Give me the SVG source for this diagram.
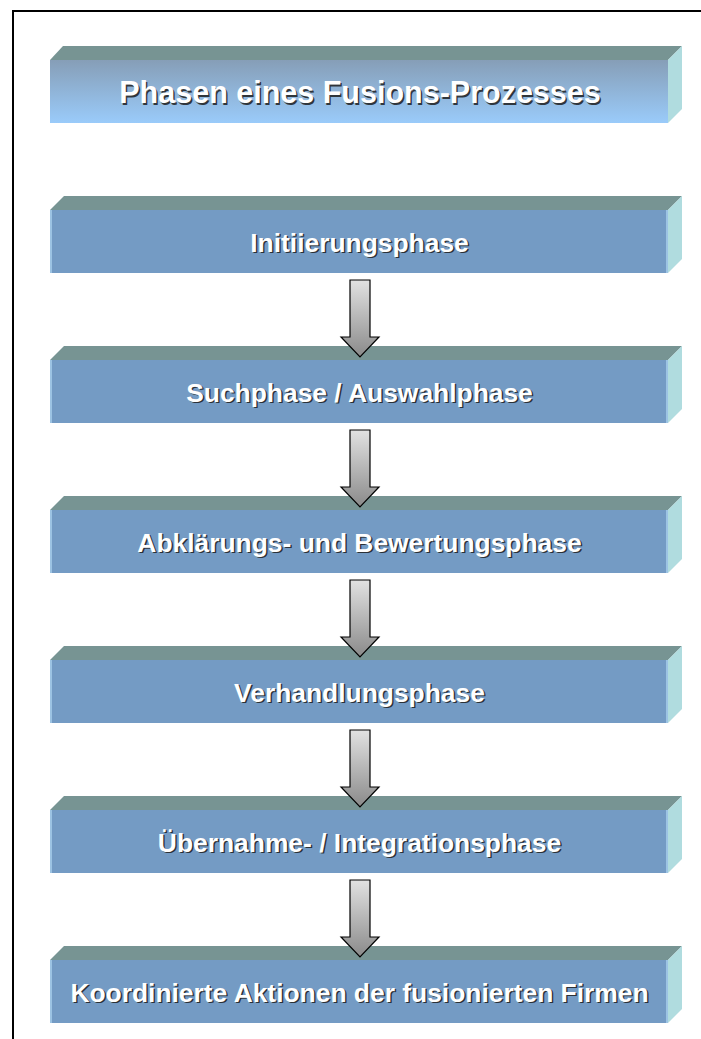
<svg xmlns="http://www.w3.org/2000/svg" width="701" height="1039" viewBox="0 0 701 1039">
  <defs>
    <linearGradient id="titleGrad" x1="0" y1="0" x2="0" y2="1">
      <stop offset="0" stop-color="#869eb7"/>
      <stop offset="1" stop-color="#9acbfa"/>
    </linearGradient>
    <linearGradient id="arrowGrad" x1="0" y1="0" x2="0" y2="1">
      <stop offset="0" stop-color="#e2e2e2"/>
      <stop offset="1" stop-color="#8a8a8a"/>
    </linearGradient>
    <g id="box">
      <polygon class="top" points="50,0 64,-14 682,-14 668,0"/>
      <polygon class="side" points="668,0 682,-14 682,49 668,63"/>
      <rect class="front" x="50" y="0" width="618" height="63"/>
      <rect class="edge" x="50" y="0" width="2" height="63"/>
      <rect class="edge" x="666" y="0" width="2" height="63"/>
    </g>
    <path id="arrow" d="M350,0 H370 V57 H379 L360,77 L341,57 H350 Z"/>
  </defs>
  <style>
    .top { fill: #779493; }
    .side { fill: #b0dcdf; }
    .front { fill: #749bc4; }
    .edge { fill: #9cc3e3; }
    .lbl { font-family: "Liberation Sans", Arial, sans-serif; font-weight: bold; font-size: 26.4px; text-anchor: middle; fill: #ffffff; }
    .shadow { fill: #1e1e1e; fill-opacity: 0.85; }
    .title { font-size: 30.5px; }
    .arr { fill: url(#arrowGrad); stroke: #000000; stroke-width: 1.2; stroke-linejoin: miter; }
  </style>
  <rect x="0" y="0" width="701" height="1039" fill="#ffffff"/>
  <path d="M13,1039 V11 H701" fill="none" stroke="#000000" stroke-width="2"/>

  <g id="title">
    <polygon class="top" points="50,60 63,46 682,46 668,60"/>
    <polygon class="side" points="668,60 682,46 682,109 668,123"/>
    <rect x="50" y="60" width="618" height="63" fill="url(#titleGrad)"/>
    <text class="lbl title shadow" x="361.5" y="104.5">Phasen eines Fusions-Prozesses</text>
    <text class="lbl title" x="360" y="103">Phasen eines Fusions-Prozesses</text>
  </g>

  <g id="phase1">
    <use href="#box" transform="translate(0,210)"/>
    <text class="lbl shadow" x="361" y="253">Initiierungsphase</text>
    <text class="lbl" x="359.5" y="251.5">Initiierungsphase</text>
  </g>
  <g id="phase2">
    <use href="#box" transform="translate(0,360)"/>
    <text class="lbl shadow" x="361" y="403">Suchphase / Auswahlphase</text>
    <text class="lbl" x="359.5" y="401.5">Suchphase / Auswahlphase</text>
  </g>
  <g id="phase3">
    <use href="#box" transform="translate(0,510)"/>
    <text class="lbl shadow" x="361" y="553">Abklärungs- und Bewertungsphase</text>
    <text class="lbl" x="359.5" y="551.5">Abklärungs- und Bewertungsphase</text>
  </g>
  <g id="phase4">
    <use href="#box" transform="translate(0,660)"/>
    <text class="lbl shadow" x="361" y="703">Verhandlungsphase</text>
    <text class="lbl" x="359.5" y="701.5">Verhandlungsphase</text>
  </g>
  <g id="phase5">
    <use href="#box" transform="translate(0,810)"/>
    <text class="lbl shadow" x="361" y="853">Übernahme- / Integrationsphase</text>
    <text class="lbl" x="359.5" y="851.5">Übernahme- / Integrationsphase</text>
  </g>
  <g id="phase6">
    <use href="#box" transform="translate(0,960)"/>
    <text class="lbl shadow" x="361" y="1003">Koordinierte Aktionen der fusionierten Firmen</text>
    <text class="lbl" x="359.5" y="1001.5">Koordinierte Aktionen der fusionierten Firmen</text>
  </g>

  <g id="connectors">
    <use href="#arrow" class="arr" transform="translate(0,280)"/>
    <use href="#arrow" class="arr" transform="translate(0,430)"/>
    <use href="#arrow" class="arr" transform="translate(0,580)"/>
    <use href="#arrow" class="arr" transform="translate(0,730)"/>
    <use href="#arrow" class="arr" transform="translate(0,880)"/>
  </g>
</svg>
